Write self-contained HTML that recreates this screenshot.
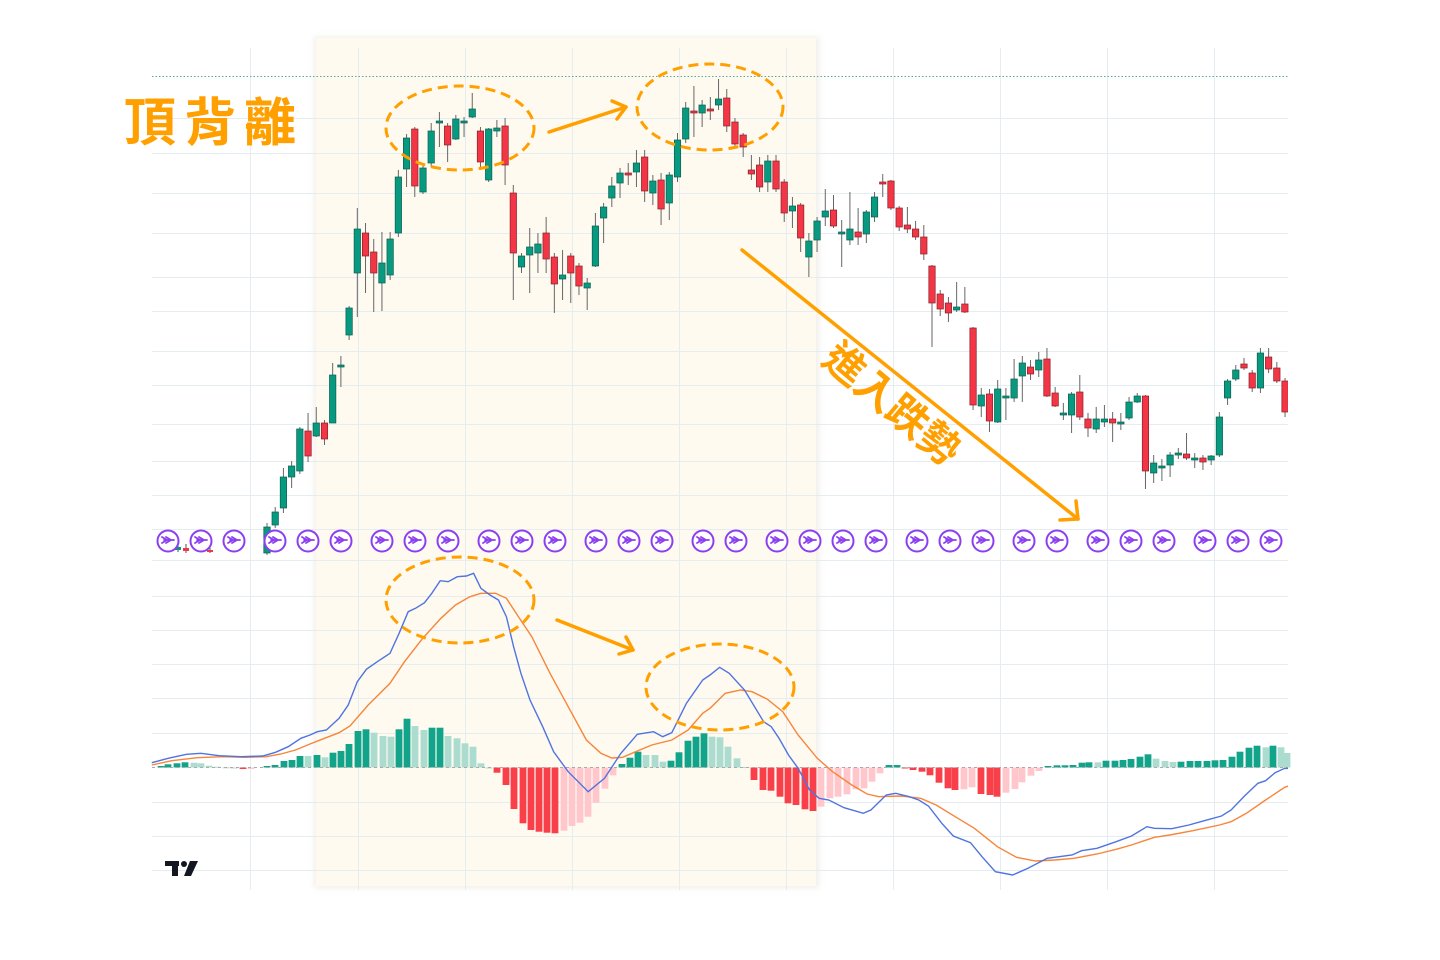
<!DOCTYPE html>
<html><head><meta charset="utf-8">
<style>
html,body{margin:0;padding:0;background:#fff;}
body{width:1440px;height:960px;overflow:hidden;position:relative;}
svg{position:absolute;left:0;top:0;}
</style></head>
<body>
<svg id="s" width="1440" height="960" viewBox="0 0 1440 960" xmlns="http://www.w3.org/2000/svg">
<defs>
<filter id="sh" x="-10%" y="-10%" width="120%" height="120%"><feGaussianBlur stdDeviation="3"/></filter>
<clipPath id="cp"><rect x="150" y="0" width="1138" height="960"/></clipPath>
</defs>
<rect x="314" y="37" width="505" height="851" fill="#e8e4dc" filter="url(#sh)" opacity="0.6"/>
<rect x="316" y="38" width="500" height="848" fill="#fefaf0"/>
<g id="grid"></g>
<line x1="152" y1="76.5" x2="1288" y2="76.5" stroke="#5aa898" stroke-width="1" stroke-dasharray="1.5 2"/>
<g id="candles" clip-path="url(#cp)"></g>
<g id="hist"></g>
<line x1="152" y1="767.5" x2="1288" y2="767.5" stroke="#aaa" stroke-width="1" stroke-dasharray="3 3"/>
<g id="lines" clip-path="url(#cp)"></g>
<g id="icons"></g>
<g fill="none" stroke="#ffa000" stroke-width="3" stroke-dasharray="10 6">
<ellipse cx="460" cy="128" rx="74" ry="42"/>
<ellipse cx="710" cy="107" rx="73" ry="43"/>
<ellipse cx="460" cy="600" rx="74" ry="43"/>
<ellipse cx="720" cy="687" rx="74" ry="43"/>
</g>
<g fill="none" stroke="#ffa000" stroke-width="3.5" stroke-linecap="round" stroke-linejoin="round">
<line x1="549" y1="132" x2="626" y2="107"/><polyline points="612,101 626,107 617,119"/>
<line x1="742" y1="250" x2="1078" y2="519"/><polyline points="1060,520 1078,519 1076,501"/>
<line x1="557" y1="620" x2="633" y2="650"/><polyline points="626,637 633,650 619,654"/>
</g>
<text x="124" y="141" font-family="'Noto Sans CJK TC','WenQuanYi Zen Hei',sans-serif" font-size="52" font-weight="bold" fill="#ffa000" letter-spacing="8">頂背離</text>
<text transform="translate(820,362) rotate(40)" font-family="'Noto Sans CJK TC','WenQuanYi Zen Hei',sans-serif" font-size="41" font-weight="bold" fill="#ffa000">進入跌勢</text>
<g fill="#131722">
<rect x="165" y="861" width="14" height="5"/><rect x="172" y="861" width="6" height="15"/>
<circle cx="184" cy="864" r="3"/><polygon points="190,861 198,861 191,876 184,876"/>
</g>
</svg>
<script>
var NS="http://www.w3.org/2000/svg";
function el(p,t,a){var e=document.createElementNS(NS,t);for(var k in a)e.setAttribute(k,a[k]);p.appendChild(e);return e;}
var g=document.getElementById('grid');
[250,358,465,572,679,786,893,1000,1107,1214].forEach(function(x){el(g,'line',{x1:x+.5,y1:48,x2:x+.5,y2:890,stroke:'#e6edf0','stroke-width':1});});
[118,153,193,233,277,311,351,385,424,461,495,529,560,596,630,664,698,733,802,836,870].forEach(function(y){el(g,'line',{x1:152,y1:y+.5,x2:1288,y2:y+.5,stroke:'#e6edf0','stroke-width':1});});
var C=[[527,553,523,555,'g'],[512,525,507,528,'g'],[477,508,468,513,'g'],[466,477,461,488,'g'],[429,471,427,474,'g'],[431,456,413,462,'r'],[423,436,407,437,'g'],[423,439,420,445,'r'],[375,423,363,423,'g'],[365,367,356,387,'g'],[308,335,306,340,'g'],[229,273,208,317,'g'],[233,256,223,293,'r'],[252,273,239,312,'r'],[263,283,232,311,'g'],[239,275,232,280,'g'],[177,233,170,237,'g'],[138,169,134,187,'g'],[129,186,127,197,'r'],[168,192,163,194,'g'],[131,163,123,167,'g'],[121,123,112,147,'g'],[126,145,123,162,'r'],[119,139,115,140,'g'],[121,123,117,137,'g'],[109,117,93,118,'g'],[131,162,127,170,'r'],[129,180,128,182,'g'],[128,131,120,137,'g'],[126,165,118,185,'r'],[193,253,185,300,'r'],[256,267,253,273,'g'],[247,255,228,293,'g'],[244,253,233,273,'g'],[233,259,217,273,'r'],[257,284,253,313,'r'],[275,279,250,300,'g'],[256,273,253,303,'r'],[266,286,263,295,'r'],[283,288,278,310,'g'],[226,266,213,267,'g'],[207,218,203,243,'g'],[186,198,177,207,'g'],[173,183,168,198,'g'],[173,175,163,185,'r'],[163,172,150,187,'g'],[157,191,150,202,'r'],[181,193,175,205,'g'],[180,209,173,225,'r'],[175,203,172,220,'g'],[140,177,133,182,'g'],[108,139,102,143,'g'],[111,113,86,137,'r'],[105,113,100,127,'g'],[109,111,97,120,'r'],[99,105,79,110,'g'],[98,126,89,132,'r'],[122,144,118,147,'r'],[135,147,133,157,'r'],[170,174,155,180,'r'],[165,187,157,192,'r'],[161,182,155,192,'g'],[161,189,155,192,'r'],[182,213,179,222,'r'],[206,211,197,228,'g'],[205,238,203,252,'r'],[241,257,233,277,'g'],[221,240,217,252,'g'],[211,217,189,226,'g'],[210,226,195,228,'r'],[232,234,220,267,'g'],[229,240,192,245,'g'],[232,237,208,245,'r'],[212,234,210,243,'g'],[197,217,192,222,'g'],[182,184,174,197,'r'],[181,208,180,210,'r'],[208,227,206,231,'r'],[225,229,207,233,'r'],[229,237,221,240,'r'],[237,254,225,260,'r'],[266,303,265,347,'r'],[294,309,290,316,'r'],[303,313,297,322,'r'],[307,310,282,312,'g'],[304,312,287,313,'r'],[328,405,327,410,'r'],[395,406,388,417,'g'],[394,421,389,432,'r'],[389,422,380,423,'g'],[396,398,388,420,'g'],[379,398,359,402,'g'],[363,376,356,402,'g'],[367,374,360,380,'r'],[360,370,352,377,'g'],[359,396,348,397,'r'],[393,406,387,407,'r'],[413,415,403,420,'g'],[394,415,392,433,'g'],[392,417,375,420,'r'],[419,428,413,437,'r'],[419,429,407,433,'g'],[419,422,405,427,'g'],[419,423,412,442,'r'],[422,424,413,430,'g'],[402,418,397,420,'g'],[396,402,393,403,'g'],[396,471,395,489,'r'],[463,473,455,483,'g'],[466,468,459,481,'g'],[455,465,452,477,'g'],[453,455,448,459,'g'],[454,458,433,460,'r'],[458,460,453,468,'g'],[458,462,455,470,'r'],[456,460,455,465,'g'],[417,455,412,457,'g'],[381,398,379,405,'g'],[370,379,365,381,'g'],[364,368,358,370,'r'],[373,388,370,392,'r'],[353,388,348,393,'g'],[357,369,348,373,'r'],[368,381,362,383,'r'],[381,412,378,417,'r']];
var cg=document.getElementById('candles');
[[178,547,550,545,552,'g'],[186,548,551,544,553,'r'],[210,550,552,548,553,'r']].forEach(function(c){el(cg,'line',{x1:c[0],y1:c[3],x2:c[0],y2:c[4],stroke:'#555'});el(cg,'rect',{x:c[0]-3,y:c[1],width:6,height:c[2]-c[1],fill:c[5]=='g'?'#089981':'#f23645'});});
C.forEach(function(c,i){var x=267+8.21*i;
el(cg,'line',{x1:x,y1:c[2],x2:x,y2:c[3],stroke:'#666','stroke-width':1});
var h=Math.max(c[1]-c[0],1.5);
el(cg,'rect',{x:x-3.2,y:c[0],width:6.4,height:h,fill:c[4]=='g'?'#089981':'#f23645',stroke:c[4]=='g'?'#0b5e4f':'#8a1f2a','stroke-width':0.7});});
var H=[[161,766,'G'],[168,764.3,'G'],[177,763.3,'G'],[185,762.3,'G'],[194,762.7,'L'],[201,763.3,'L'],[209,765.7,'L'],[217,766.7,'L'],[226,767.3,'L'],[234,767.5,'L'],[243,769,'R'],[251,769,'P'],[267,766,'G'],[275,765,'G'],[284,761,'G'],[292,760,'G'],[300,756,'G'],[308,756,'L'],[317,755,'G'],[325,757.3,'L'],[333,752.7,'G'],[341,751,'G'],[349,744,'G'],[358,731,'G'],[366,729.3,'G'],[374,732.7,'L'],[383,736,'L'],[391,736.7,'L'],[399,729.3,'G'],[407,718.7,'G'],[415,726,'L'],[424,730,'L'],[432,727.7,'G'],[440,727.7,'G'],[448,736,'L'],[457,738.3,'L'],[465,743.3,'L'],[473,746.7,'L'],[481,763.3,'L'],[489,767.5,'L'],[497,772.7,'R'],[506,785,'R'],[514,809,'R'],[523,823.3,'R'],[531,830,'R'],[539,831.7,'R'],[547,832.7,'R'],[555,833.3,'R'],[564,830.7,'P'],[572,826,'P'],[580,822.7,'P'],[588,816.7,'P'],[596,802.7,'P'],[605,788.7,'P'],[613,775.3,'P'],[622,764,'G'],[630,757.7,'G'],[638,751.7,'G'],[646,755,'L'],[655,755,'L'],[663,761.7,'L'],[671,760.7,'G'],[679,752.3,'G'],[688,740.7,'G'],[696,736.7,'G'],[704,733.3,'G'],[712,736.7,'L'],[720,737.3,'L'],[728,746.7,'L'],[737,758.3,'L'],[746,767,'L'],[754,780,'R'],[763,790,'R'],[771,790.7,'R'],[780,796.7,'R'],[788,803.3,'R'],[796,805,'R'],[805,809.3,'R'],[813,811,'R'],[821,806.7,'P'],[830,798.3,'P'],[838,796.7,'P'],[847,794.3,'P'],[856,789.3,'P'],[864,788.3,'P'],[872,781.7,'P'],[880,773.3,'P'],[889,765,'G'],[897,765,'G'],[905,768,'R'],[913,770,'R'],[922,771.7,'R'],[930,775.3,'R'],[939,782.7,'R'],[948,788.3,'R'],[955,790,'R'],[964,789.3,'P'],[972,787.3,'P'],[981,794,'R'],[990,795,'R'],[997,796.7,'R'],[1006,792.7,'P'],[1015,789,'P'],[1022,782.3,'P'],[1031,775.7,'P'],[1039,771,'P'],[1048,766,'G'],[1057,765.3,'G'],[1065,765.3,'G'],[1073,765,'G'],[1082,762.7,'G'],[1089,762.3,'G'],[1098,762.3,'L'],[1106,760.7,'G'],[1115,760.7,'G'],[1123,760,'G'],[1131,759,'G'],[1140,756.7,'G'],[1148,754.3,'G'],[1156,758.7,'L'],[1165,761,'L'],[1173,762,'L'],[1181,761.7,'G'],[1190,761,'G'],[1198,761,'G'],[1207,761,'G'],[1215,760.3,'G'],[1223,760,'G'],[1232,756.7,'G'],[1240,751.7,'G'],[1249,747.7,'G'],[1257,745.7,'G'],[1266,747.3,'L'],[1273,745.7,'G'],[1281,747.3,'L'],[1287,753,'L']];
var hg=document.getElementById('hist');var col={G:'#12a38b',L:'#abdccf',R:'#f9404a',P:'#ffc7cc'};
H.forEach(function(b){var z=767.5;var y=Math.min(b[1],z),h=Math.abs(b[1]-z);if(h<1)h=1;
el(hg,'rect',{x:b[0]-3.4,y:y,width:6.8,height:h,fill:col[b[2]]});});
function pts(a,ox,oy,sx){return a.map(function(p){return (ox+p[0]/sx).toFixed(1)+','+(oy+p[1]/3).toFixed(1);}).join(' ');}
var b3=[[5,638],[50,625],[100,613],[140,610],[190,617],[250,620],[310,618],[345,607],[380,590],[415,565],[440,555],[460,545],[485,540],[520,505],[545,465],[570,395],[595,358],[625,335],[660,310],[685,250],[710,185],[730,175],[755,158],[775,130],[798,92],[820,95],[845,80],[870,78],[890,70],[910,115],[935,135],[958,150],[980,200],[1000,290],[1020,370],[1045,450],[1080,530],[1110,605],[1150,665],[1205,725],[1250,685],[1295,610],[1340,553],[1385,545],[1410,560],[1435,548],[1475,460],[1520,390]];
var b4=[[0,375],[25,352],[50,370],[90,420],[140,515],[160,530],[180,565],[205,615],[230,655],[260,720],[285,745],[310,750],[350,773],[400,790],[420,780],[460,735],[485,730],[520,740],[545,750],[570,768],[605,820],[635,858],[680,878],[710,920],[745,965],[790,975],[830,955],[880,925],[945,915],[970,902],[1010,895],[1060,875],[1100,858],[1140,830],[1160,835],[1205,836],[1250,825],[1290,812],[1335,798],[1360,780],[1395,738],[1430,700],[1450,692],[1475,668],[1500,655],[1520,656],[1540,662]];
var o3=[[5,645],[60,632],[130,623],[200,620],[260,622],[320,620],[360,612],[400,600],[440,582],[480,565],[520,548],[550,528],[600,465],[660,400],[700,335],[750,265],[800,205],[840,165],[880,140],[910,130],[950,130],[980,145],[1010,195],[1050,260],[1100,370],[1150,470],[1200,570],[1240,610],[1270,624],[1300,622],[1340,603],[1380,585],[1435,570],[1480,540],[1520,490]];
var o4=[[0,475],[40,430],[80,420],[110,425],[150,448],[190,485],[230,555],[280,625],[320,665],[370,705],[410,732],[440,740],[500,738],[550,745],[590,765],[640,800],[690,835],[750,890],[800,922],[850,933],[900,930],[950,925],[1010,912],[1060,898],[1100,885],[1160,862],[1200,855],[1260,842],[1330,825],[1360,815],[1400,790],[1450,750],[1500,712],[1540,695]];
var lg=document.getElementById('lines');
el(lg,'polyline',{points:pts(o3,150,550,2.75)+' '+pts(o4,710,550,2.61),fill:'none',stroke:'#f7853a','stroke-width':1.4});
el(lg,'polyline',{points:pts(b3,150,550,2.75)+' '+pts(b4,710,550,2.61),fill:'none',stroke:'#4f74e0','stroke-width':1.4});
var ig=document.getElementById('icons');
[168,201,234,275,308,341,382,415,448,489,522,555,596,629,662,703,736,777,810,843,876,917,950,983,1024,1057,1098,1131,1164,1205,1238,1271].forEach(function(x){var y=541;
el(ig,'circle',{cx:x,cy:y,r:10.5,fill:'#fff',stroke:'#8c3ff0','stroke-width':2});
el(ig,'path',{d:'M'+(x-6)+' '+(y-4)+' L'+(x-1)+' '+(y-1)+' L'+(x-6)+' '+(y+2)+' M'+(x-2)+' '+(y-4)+' L'+(x+3)+' '+(y-1)+' L'+(x-2)+' '+(y+2)+' M'+(x-4)+' '+(y-1)+' L'+(x+6)+' '+(y-1),fill:'none',stroke:'#8c3ff0','stroke-width':1.8,'stroke-linecap':'round','stroke-linejoin':'round'});});
</script>
</body></html>
